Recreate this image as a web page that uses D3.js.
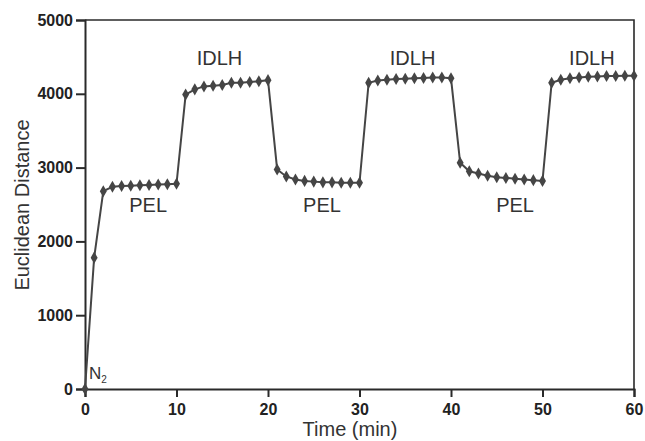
<!DOCTYPE html>
<html lang="en">
<head>
    <meta charset="UTF-8">
    <title>Euclidean Distance vs Time</title>
    <script src="https://d3js.org/d3.v7.min.js"></script>
    <style>
        body {
            margin: 0;
            padding: 0;
            background: #fff;
        }
        text {
            font-family: "Liberation Sans", Arial, sans-serif;
        }
    </style>
</head>
<body>
<svg id="chart" width="645" height="441"></svg>
<script>
    // time in minutes, one sample per minute
    var times = d3.range(0, 61);
    var distances = [
        0, 1780, 2680, 2740, 2750, 2755, 2760, 2765, 2770, 2775, 2780,
        3990, 4060, 4100, 4110, 4120, 4150, 4150, 4160, 4170, 4185,
        2975, 2880, 2840, 2820, 2810, 2800, 2800, 2795, 2795, 2795,
        4150, 4180, 4190, 4200, 4205, 4210, 4215, 4220, 4220, 4210,
        3065, 2950, 2920, 2890, 2870, 2860, 2850, 2840, 2830, 2820,
        4150, 4190, 4210, 4220, 4230, 4235, 4240, 4240, 4245, 4245
    ];
    var xTicks = [0, 10, 20, 30, 40, 50, 60];
    var yTicks = [0, 1000, 2000, 3000, 4000, 5000];
    var phaseLabels = ['PEL', 'IDLH', 'PEL', 'IDLH', 'PEL', 'IDLH'];
    var phaseX = [6.9, 14.7, 25.9, 35.8, 47.0, 55.4];
    var phaseY = [2400, 4390, 2400, 4390, 2400, 4390];

    var plotLeft = 85, plotRight = 634, plotTop = 20, plotBottom = 389;
    var svg = d3.select('#chart');
    var x = d3.scaleLinear().domain([0, 60]).range([plotLeft, plotRight]);
    var y = d3.scaleLinear().domain([0, 5000]).range([plotBottom, plotTop]);

    // frame (top and right)
    svg.append('path')
        .attr('d', 'M' + plotLeft + ',' + plotTop + 'H' + plotRight + 'V' + plotBottom)
        .attr('fill', 'none')
        .attr('stroke', '#2a2a2a')
        .attr('stroke-width', 1.6);

    var xAxis = svg.append('g')
        .attr('transform', 'translate(0,' + plotBottom + ')')
        .call(d3.axisBottom(x).tickValues(xTicks).tickSize(8).tickPadding(7).tickFormat(d3.format('d')));
    var yAxis = svg.append('g')
        .attr('transform', 'translate(' + plotLeft + ',0)')
        .call(d3.axisLeft(y).tickValues(yTicks).tickSize(9).tickPadding(3).tickFormat(d3.format('d')));

    [xAxis, yAxis].forEach(function (ax) {
        ax.attr('font-size', 16).attr('font-family', '"Liberation Sans", Arial, sans-serif');
        ax.select('.domain').attr('stroke', '#2a2a2a').attr('stroke-width', 2);
        ax.selectAll('.tick line').attr('stroke', '#2a2a2a').attr('stroke-width', 2);
        ax.selectAll('.tick text')
            .attr('fill', '#222')
            .attr('font-weight', 'bold');
    });

    var points = times.map(function (t, i) {
        return [t, distances[i]];
    });

    svg.append('path')
        .datum(points)
        .attr('fill', 'none')
        .attr('stroke', '#454545')
        .attr('stroke-width', 2)
        .attr('d', d3.line()
            .x(function (d) { return x(d[0]); })
            .y(function (d) { return y(d[1]); }));

    svg.append('g')
        .selectAll('path')
        .data(points)
        .join('path')
        .attr('transform', function (d) {
            return 'translate(' + x(d[0]) + ',' + y(d[1]) + ')';
        })
        .attr('fill', '#454545')
        .attr('d', d3.symbol().type(d3.symbolDiamond).size(42));

    svg.append('g')
        .selectAll('text')
        .data(phaseLabels)
        .join('text')
        .attr('x', function (d, i) { return x(phaseX[i]); })
        .attr('y', function (d, i) { return y(phaseY[i]); })
        .attr('text-anchor', 'middle')
        .attr('font-size', '20px')
        .attr('fill', '#333')
        .text(function (d) { return d; });

    var n2 = svg.append('text')
        .attr('x', x(0) + 4)
        .attr('y', 379)
        .attr('font-size', '17px')
        .attr('fill', '#333');
    n2.append('tspan').text('N');
    n2.append('tspan').attr('font-size', '10px').attr('dy', 4).text('2');

    svg.append('text')
        .attr('x', 350)
        .attr('y', 436)
        .attr('text-anchor', 'middle')
        .attr('font-size', '20px')
        .attr('fill', '#333')
        .text('Time (min)');

    svg.append('text')
        .attr('transform', 'translate(29,205) rotate(-90)')
        .attr('text-anchor', 'middle')
        .attr('font-size', '20px')
        .attr('fill', '#333')
        .text('Euclidean Distance');
</script>
</body>
</html>
